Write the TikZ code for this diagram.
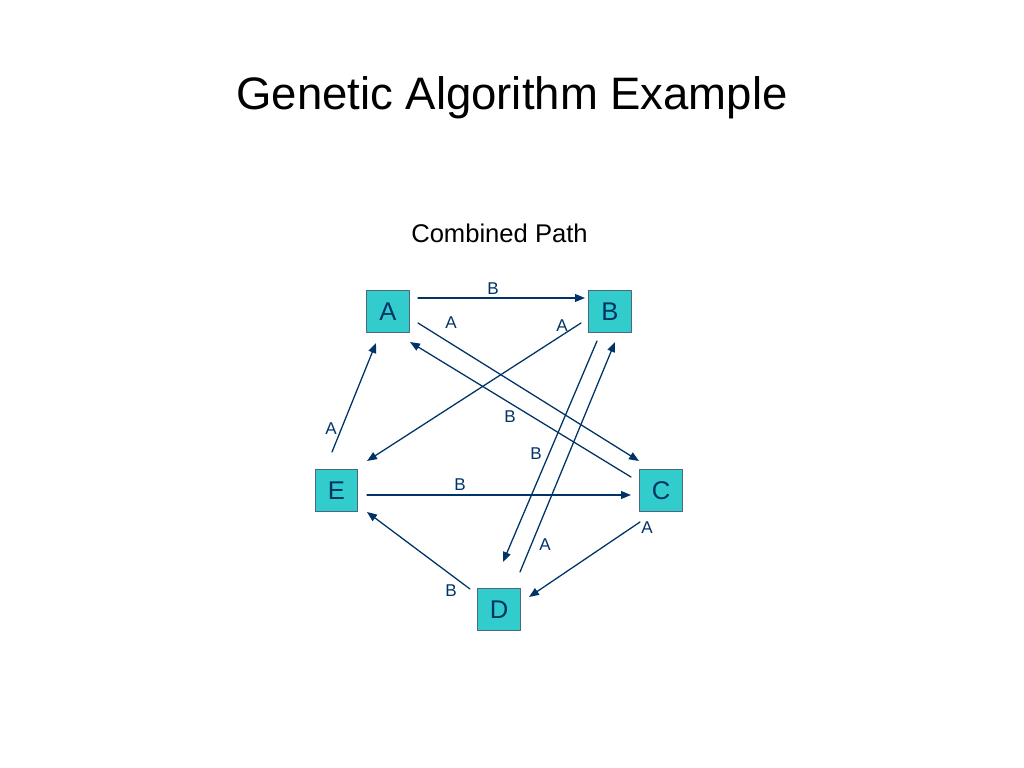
\documentclass[tikz,border=0pt]{standalone}
\usepackage{fontspec}
\setmainfont{Liberation Sans}
\usetikzlibrary{arrows}
\usetikzlibrary{arrows.meta}
\usetikzlibrary{positioning}
\definecolor{navyblue}{rgb}{0,0.2,0.4}
\definecolor{tealbox}{rgb}{0.2,0.8,0.8}
\definecolor{boxline}{rgb}{0.3,0.4,0.5}
\begin{document}
\begin{tikzpicture}[line cap=round,line join=round,>={Triangle[length=7pt,width=5.5pt]},x=0.703125pt,y=-0.703125pt,
  city/.style={draw=boxline,line width=0.6pt,fill=tealbox,minimum size=30pt,inner sep=0pt,text=navyblue,font=\fontsize{18}{21}\selectfont},
  gene/.style={text=navyblue,inner sep=0pt,font=\fontsize{12}{14}\selectfont},
  link/.style={->,color=navyblue,line width=0.9pt}]
\useasboundingbox (0,0) rectangle (1024,768);
\node[anchor=base,font=\fontsize{32}{38}\selectfont] (title) at (512,110) {Genetic Algorithm Example};
\node[anchor=base,font=\fontsize{18}{22}\selectfont] (sub) at (499.5,243) {Combined Path};
% cities
\node[city] (A) at (388,311.5) {A};
\node[city] (B) at (610,311.5) {B};
\node[city] (C) at (661,490.5) {C};
\node[city] (D) at (499,609.5) {D};
\node[city] (E) at (336.5,490.5) {E};
% arrow ends
\coordinate (ab1) at (418,298); \coordinate (ab2) at (585,298);
\coordinate (ac1) at (418,323); \coordinate (ac2) at (639,461);
\coordinate (ca1) at (631,477); \coordinate (ca2) at (410,342);
\coordinate (be1) at (581,323); \coordinate (be2) at (367,461);
\coordinate (ea1) at (332,452); \coordinate (ea2) at (376,343);
\coordinate (bd1) at (597,341); \coordinate (bd2) at (503,562);
\coordinate (db1) at (520,572); \coordinate (db2) at (615,342);
\coordinate (ec1) at (367,495); \coordinate (ec2) at (631,495);
\coordinate (de1) at (470,589); \coordinate (de2) at (367,512);
\coordinate (cd1) at (640,522); \coordinate (cd2) at (529,597);
\draw[link] (ab1) -- (ab2);
\draw[link] (ac1) -- (ac2);
\draw[link] (ca1) -- (ca2);
\draw[link] (be1) -- (be2);
\draw[link] (ea1) -- (ea2);
\draw[link] (bd1) -- (bd2);
\draw[link] (db1) -- (db2);
\draw[link] (ec1) -- (ec2);
\draw[link] (de1) -- (de2);
\draw[link] (cd1) -- (cd2);
% labels
\node[gene] (l1) at (493,289) {B};
\node[gene] (l2) at (451,323) {A};
\node[gene] (l3) at (562,326) {A};
\node[gene] (l4) at (510,417) {B};
\node[gene] (l5) at (331,429) {A};
\node[gene] (l6) at (536,454) {B};
\node[gene] (l7) at (460,485) {B};
\node[gene] (l8) at (647,528) {A};
\node[gene] (l9) at (545,545) {A};
\node[gene] (l10) at (451,591) {B};
\end{tikzpicture}
\end{document}
